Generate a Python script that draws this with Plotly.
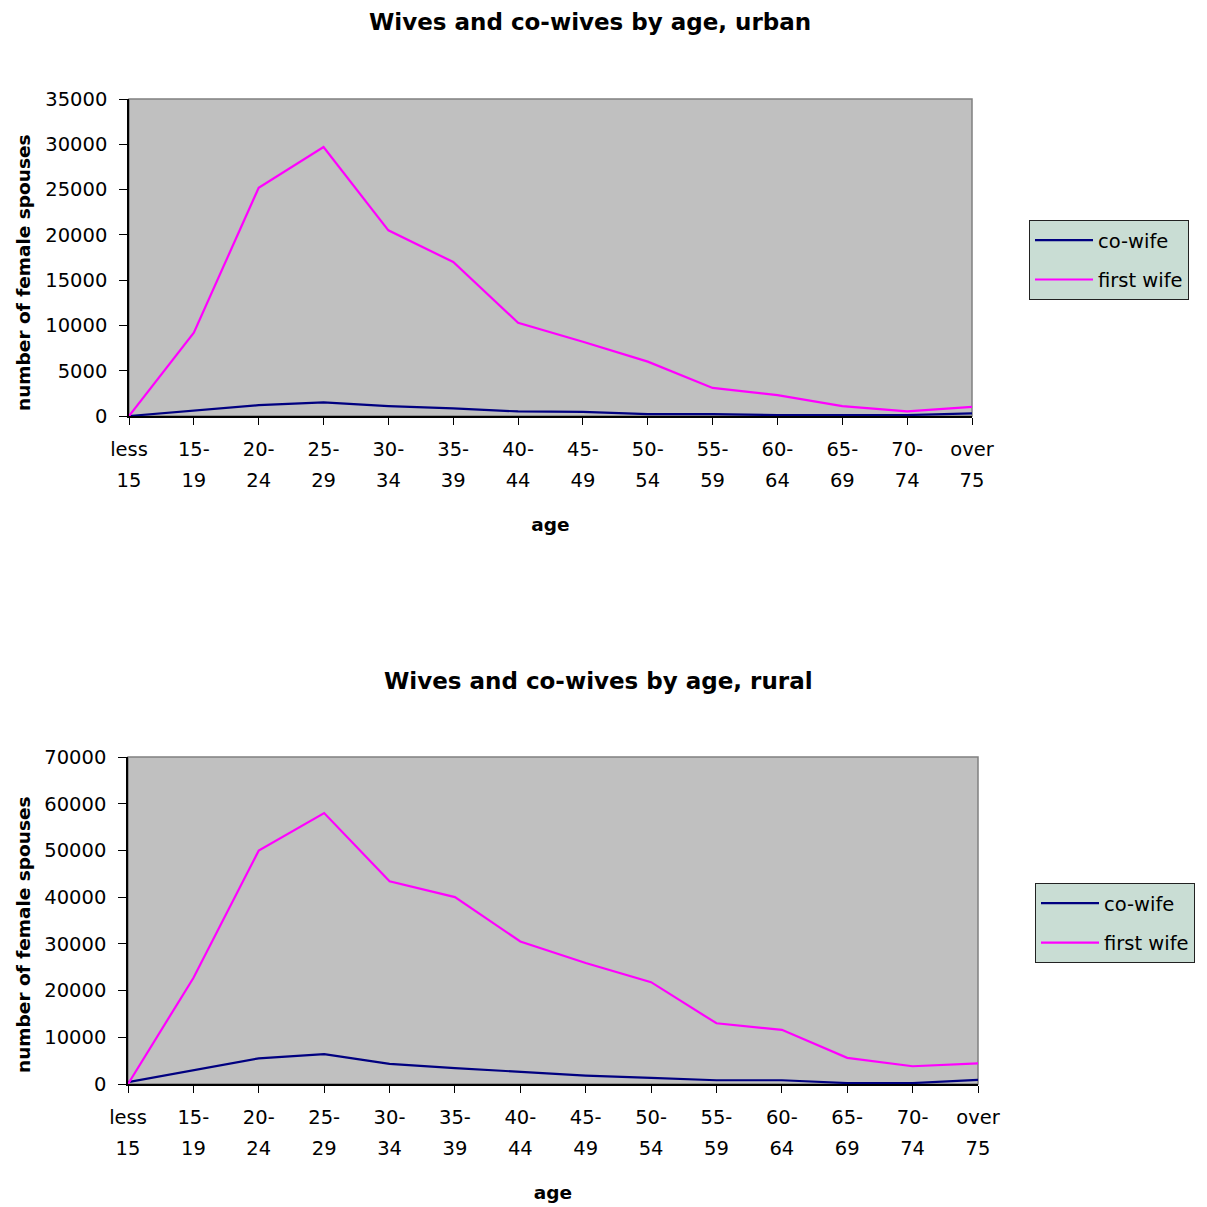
import plotly.graph_objects as go

# Age groups and the two-line tick labels shown under each axis
age_groups = ["less 15", "15-19", "20-24", "25-29", "30-34", "35-39", "40-44",
              "45-49", "50-54", "55-59", "60-64", "65-69", "70-74", "over 75"]
tick_line1 = ["less", "15-", "20-", "25-", "30-", "35-", "40-",
              "45-", "50-", "55-", "60-", "65-", "70-", "over"]
tick_line2 = ["15", "19", "24", "29", "34", "39", "44",
              "49", "54", "59", "64", "69", "74", "75"]

# Number of female spouses by age group
urban_cowife = [0, 600, 1200, 1500, 1100, 850, 500, 450, 200, 200, 100, 100, 100, 300]
urban_firstwife = [0, 9200, 25200, 29700, 20500, 17000, 10300, 8200, 6000, 3100, 2300, 1100, 500, 1000]
rural_cowife = [400, 3000, 5500, 6400, 4300, 3400, 2600, 1800, 1300, 800, 800, 200, 200, 900]
rural_firstwife = [0, 22700, 50000, 58000, 43400, 40000, 30500, 25900, 21800, 13000, 11600, 5600, 3800, 4400]

W = H = 1207
FONT = "DejaVu Sans"
NAVY = "#000080"
MAGENTA = "#ff00ff"
idx = list(range(len(age_groups)))


def px_x(a, b):
    return [a / W, b / W]


def px_y(top, bottom):
    return [1 - bottom / H, 1 - top / H]


fig = go.Figure()

for xa, xb, ya, leg, cow, fw in [("x", "x3", "y", "legend", urban_cowife, urban_firstwife),
                                 ("x2", "x4", "y2", "legend2", rural_cowife, rural_firstwife)]:
    fig.add_trace(go.Scatter(x=idx, y=cow, mode="lines", name="co-wife",
                             line=dict(color=NAVY, width=2.2), xaxis=xa, yaxis=ya,
                             legend=leg, legendgroup=leg + "a",
                             customdata=age_groups,
                             hovertemplate="%{customdata}: %{y}<extra>co-wife</extra>"))
    fig.add_trace(go.Scatter(x=idx, y=fw, mode="lines", name="first wife",
                             line=dict(color=MAGENTA, width=2.2), xaxis=xa, yaxis=ya,
                             legend=leg, legendgroup=leg + "b",
                             customdata=age_groups,
                             hovertemplate="%{customdata}: %{y}<extra>first wife</extra>"))
    # empty trace so the second row of age labels gets its own axis
    fig.add_trace(go.Scatter(x=[], y=[], xaxis=xb, yaxis=ya, showlegend=False,
                             hoverinfo="skip"))

tickfont = dict(family=FONT, size=19.5, color="black")
titlefont = dict(family=FONT, size=18.5, color="black", weight="bold")


def xaxis_main(domain, anchor):
    return dict(domain=domain, anchor=anchor, range=[0, 13], tickmode="array",
                tickvals=idx, ticktext=tick_line1, ticks="outside", ticklen=7,
                tickcolor="black", showline=True, linecolor="black", linewidth=1.5,
                showgrid=False, zeroline=False, tickfont=tickfont, automargin=False,
                ticklabelstandoff=8, fixedrange=True)


def xaxis_second(overlay, anchor):
    return dict(overlaying=overlay, anchor=anchor, side="bottom", range=[0, 13],
                tickmode="array", tickvals=idx, ticktext=tick_line2, ticks="",
                showline=False, showgrid=False, zeroline=False, tickfont=tickfont,
                ticklabelstandoff=50, automargin=False,
                title=dict(text="age", font=titlefont, standoff=27), fixedrange=True)


def yaxis(domain, anchor, top, step):
    return dict(domain=domain, anchor=anchor, range=[0, top], dtick=step,
                tickformat="d", ticks="outside", ticklen=8, tickcolor="black",
                showline=True, linecolor="black", linewidth=1.5, showgrid=False,
                zeroline=False, tickfont=tickfont, ticklabelstandoff=8, automargin=False,
                fixedrange=True)


def chart_title(text, x, y):
    return dict(text=text, x=x / W, y=1 - y / H, xref="paper", yref="paper",
                showarrow=False, xanchor="center", yanchor="middle",
                font=dict(family=FONT, size=23, color="black", weight="bold"))


def y_title(x, y):
    return dict(text="number of female spouses", x=x / W, y=1 - y / H,
                xref="paper", yref="paper", showarrow=False, textangle=-90,
                xanchor="center", yanchor="middle", font=titlefont)


legend_style = dict(bgcolor="#c9ddd4", bordercolor="#222222", borderwidth=1,
                    font=dict(family=FONT, size=19.5, color="black"),
                    xanchor="left", yanchor="top", tracegroupgap=11,
                    itemwidth=58, traceorder="grouped")

fig.update_layout(
    width=W, height=H,
    margin=dict(l=0, r=0, t=0, b=0, pad=0, autoexpand=False),
    paper_bgcolor="white",
    plot_bgcolor="#c0c0c0",
    showlegend=True,
    xaxis=xaxis_main(px_x(129, 972), "y"),
    yaxis=yaxis(px_y(99, 416), "x", 35000, 5000),
    xaxis3=xaxis_second("x", "y"),
    xaxis2=xaxis_main(px_x(128, 978), "y2"),
    yaxis2=yaxis(px_y(757, 1084), "x2", 70000, 10000),
    xaxis4=xaxis_second("x2", "y2"),
    legend=dict(x=1029 / W, y=1 - 220 / H, **legend_style),
    legend2=dict(x=1035 / W, y=1 - 883 / H, **legend_style),
    annotations=[
        chart_title("Wives and co-wives by age, urban", 590, 22),
        chart_title("Wives and co-wives by age, rural", 598, 681),
        y_title(23, 273),
        y_title(23, 935),
    ],
    shapes=[
        dict(type="rect", xref="x domain", yref="y domain", x0=0, x1=1, y0=0, y1=1,
             line=dict(color="#808080", width=1.5), layer="below"),
        dict(type="rect", xref="x2 domain", yref="y2 domain", x0=0, x1=1, y0=0, y1=1,
             line=dict(color="#808080", width=1.5), layer="below"),
    ],
)

fig.write_html("out.html")
